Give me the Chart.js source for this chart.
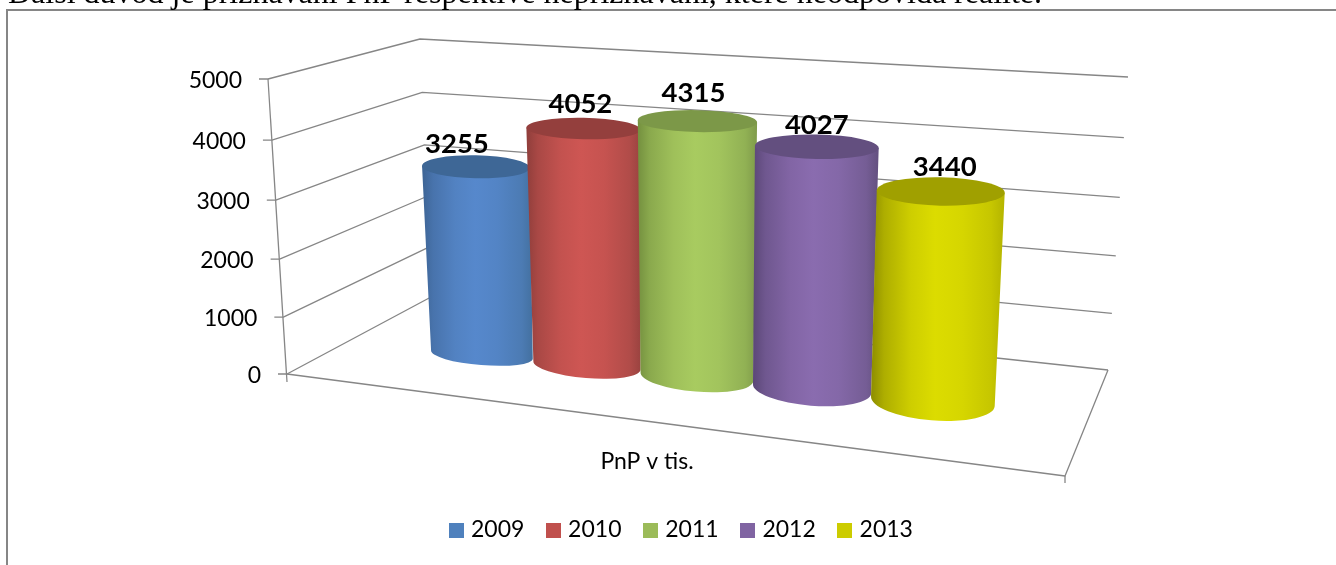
<!DOCTYPE html>
<html lang="cs">
<head>
<meta charset="utf-8">
<title>PnP v tis.</title>
<style>
  html, body { margin: 0; padding: 0; background: #fff; width: 1336px; height: 565px; overflow: hidden; }
  #wrap { position: relative; width: 1336px; height: 565px; overflow: hidden; }
  canvas { position: absolute; left: 0; top: 0; }
  #para { position: absolute; left: 8px; top: -26px; white-space: nowrap; font: 32px/36px "Liberation Serif", serif; color: #000; }
</style>
<script src="https://cdn.jsdelivr.net/npm/chart.js@4"></script>
</head>
<body>
<div id="wrap">
  <canvas id="c" width="1336" height="565"></canvas>
  <div id="para">Další důvod je přiznávání PnP respektive nepřiznávání, které neodpovídá realitě.</div>
</div>
<script>
// ---- data ----
const categories = ['PnP v tis.'];
const seriesNames = ['2009', '2010', '2011', '2012', '2013'];
const seriesValues = [3255, 4052, 4315, 4027, 3440];
const yTickValues = [0, 1000, 2000, 3000, 4000, 5000];

// ---- styles ----
const legendColors = ['#4F81BD', '#C0504D', '#9BBB59', '#8064A2', '#CCCC00'];
const sideEdgeL = ['#3D6494', '#8F3E3B', '#74903F', '#5B4777', '#8C8C00'];
const sideEdgeR = ['#43709F', '#9A4340', '#7F9B4A', '#63507F', '#B4B400'];
const sideMid = ['#5688CC', '#CE5653', '#A8CB60', '#8A6CAF', '#DCDC00'];
const capColor = ['#3E6796', '#943F3D', '#7C9848', '#634F7F', '#A0A000'];
const labelNudgeX = [-19, -3, -4, 0, 4];
const labelNudgeY = [-23, -24, -28, -22, -24];
const FONT = 'Lato, "Open Sans", sans-serif';
const LINE = '#868686';

// ---- 3-D frame of the chart (scaffolding of the projection) ----
const frame = {
  frontLow: [287, 374], frontHigh: [268, 79],
  backLow: [431, 297], backHigh: [420, 39],
  rightLow: [1108, 370], rightHigh: [1128, 77],
  floorFront: [1065, 476]
};
// plane through the cylinder axes
const plane = { bl: [369.2, 343], br: [1076, 416], tl: [354.8, 58.5], tr: [1094, 106] };
const uBend = -0.1356, wallBend = -0.043;

const lerp = (a, b, t) => [a[0] + (b[0] - a[0]) * t, a[1] + (b[1] - a[1]) * t];
const wallT = t => t * (1 + wallBend) / (1 + wallBend * t);
const onPlane = (u, t) => {
  const w = u * (1 + uBend) / (1 + uBend * u);
  return lerp(lerp(plane.bl, plane.br, w), lerp(plane.tl, plane.tr, w), t);
};
const scaleT = (s, v) => (s.bottom - s.getPixelForValue(v)) / (s.bottom - s.top);

function line(ctx, pts) {
  ctx.beginPath();
  pts.forEach((p, i) => i ? ctx.lineTo(p[0], p[1]) : ctx.moveTo(p[0], p[1]));
  ctx.stroke();
}
function mix(a, b, k) {
  const pa = parseInt(a.slice(1), 16), pb = parseInt(b.slice(1), 16);
  const ch = s => Math.round(((pa >> s) & 255) * (1 - k) + ((pb >> s) & 255) * k);
  return 'rgb(' + ch(16) + ',' + ch(8) + ',' + ch(0) + ')';
}

const scene = {
  id: 'scene',
  beforeDraw(chart) {
    const ctx = chart.ctx, y = chart.scales.y;
    ctx.save();
    ctx.fillStyle = '#fff';
    ctx.fillRect(0, 0, chart.width, chart.height);
    // outer frame of the embedded object
    ctx.strokeStyle = LINE; ctx.lineWidth = 2;
    line(ctx, [[7, chart.height + 2], [7, 10], [chart.width + 2, 10]]);
    ctx.restore();
    // slide the axis labels along the slanted axis
    const items = y.getLabelItems();
    if (!items._slanted) {
      items.forEach((it, i) => {
        const p = lerp(frame.frontLow, frame.frontHigh, wallT(scaleT(y, y.ticks[i].value)));
        it.options.translation[0] = p[0] - 26;
        it.options.translation[1] = p[1] + 1.5;
      });
      items._slanted = true;
    }
  },
  beforeDatasetsDraw(chart) {
    const ctx = chart.ctx, y = chart.scales.y;
    ctx.save();
    ctx.strokeStyle = LINE; ctx.lineWidth = 1.3; ctx.lineJoin = 'round';
    y.ticks.forEach(tk => {
      const t = wallT(scaleT(y, tk.value));
      const a = lerp(frame.frontLow, frame.frontHigh, t);
      const b = lerp(frame.backLow, frame.backHigh, t);
      const c = lerp(frame.rightLow, frame.rightHigh, t);
      line(ctx, [[a[0] - 9, a[1]], a, b, c]);
    });
    line(ctx, [frame.frontHigh, [frame.frontLow[0], frame.frontLow[1] + 8]]);
    line(ctx, [frame.frontLow, frame.floorFront, frame.rightLow]);
    line(ctx, [frame.floorFront, [frame.floorFront[0], frame.floorFront[1] + 7]]);
    ctx.restore();
  },
  beforeDatasetDraw() { return false; },
  afterDatasetsDraw(chart) {
    const ctx = chart.ctx, ca = chart.chartArea, yS = chart.scales.y;
    const tops = [];
    chart.data.datasets.forEach((ds, i) => {
      const bar = chart.getDatasetMeta(i).data[0].getProps(['x', 'y', 'base', 'width'], true);
      const u = (bar.x - ca.left) / (ca.right - ca.left);
      const t = (bar.base - bar.y) / (yS.bottom - yS.top);
      const h = bar.width / 2;
      const b = onPlane(u, 0), c = onPlane(u, t);
      const rxB = h * (0.79 + 0.284 * u), rxT = rxB + h * t * (0.08 - 0.04 * u);
      const ryB = h * (0.132 + 0.224 * u), ryT = h * (0.276 + 0.078 * u - 0.155 * t);
      const rotB = 0.08, rotT = 0.02;
      const g = ctx.createLinearGradient(Math.min(b[0] - rxB, c[0] - rxT), 0, Math.max(b[0] + rxB, c[0] + rxT), 0);
      const L = sideEdgeL[i], R = sideEdgeR[i], M = sideMid[i];
      g.addColorStop(0, L);
      g.addColorStop(0.1, mix(L, M, 0.42));
      g.addColorStop(0.3, mix(L, M, 0.82));
      g.addColorStop(0.48, M);
      g.addColorStop(0.68, mix(R, M, 0.85));
      g.addColorStop(0.9, mix(R, M, 0.45));
      g.addColorStop(1, R);
      ctx.save();
      ctx.fillStyle = g;
      ctx.beginPath();
      ctx.moveTo(c[0] - rxT * Math.cos(rotT), c[1] - rxT * Math.sin(rotT));
      ctx.lineTo(b[0] - rxB * Math.cos(rotB), b[1] - rxB * Math.sin(rotB));
      ctx.ellipse(b[0], b[1], rxB, ryB, rotB, Math.PI, 0, true);
      ctx.lineTo(c[0] + rxT * Math.cos(rotT), c[1] + rxT * Math.sin(rotT));
      ctx.closePath();
      ctx.fill();
      ctx.fillStyle = capColor[i];
      ctx.beginPath();
      ctx.ellipse(c[0], c[1], rxT, ryT, rotT, 0, Math.PI * 2);
      ctx.fill();
      ctx.restore();
      tops.push([c[0] + labelNudgeX[i], c[1] + labelNudgeY[i], ds.data[0]]);
    });
    ctx.save();
    ctx.font = 'bold 27.5px ' + FONT;
    ctx.fillStyle = '#000';
    ctx.textAlign = 'center';
    ctx.textBaseline = 'middle';
    tops.forEach(p => ctx.fillText(String(p[2]), p[0], p[1]));
    ctx.restore();
  }
};

function swatch(color) {
  const s = document.createElement('canvas');
  s.width = 15; s.height = 15;
  const x = s.getContext('2d');
  x.fillStyle = color; x.fillRect(0, 0, 15, 15);
  return s;
}

new Chart(document.getElementById('c'), {
  type: 'bar',
  data: {
    labels: categories,
    datasets: seriesNames.map((name, i) => ({
      label: name,
      data: [seriesValues[i]],
      backgroundColor: legendColors[i],
      categoryPercentage: 0.8,
      barPercentage: 1,
      yAxisID: 'y'
    }))
  },
  plugins: [scene],
  options: {
    responsive: false,
    animation: false,
    layout: { padding: { left: 30, right: 0, top: 80, bottom: 13.5 } },
    plugins: {
      tooltip: { enabled: false },
      legend: {
        position: 'bottom',
        labels: {
          color: '#000',
          font: { family: FONT, size: 23 },
          usePointStyle: true,
          pointStyleWidth: 6.4,
          padding: 25.9,
          generateLabels: chart => chart.data.datasets.map((ds, i) => ({
            text: ds.label,
            fontColor: '#000',
            pointStyle: swatch(ds.backgroundColor),
            datasetIndex: i,
            hidden: false
          }))
        }
      }
    },
    scales: {
      x: {
        grid: { display: false, drawTicks: false },
        border: { display: false },
        ticks: { color: '#000', padding: 72.7, font: { family: FONT, size: 23 } },
        afterFit: s => { s.height = 117.6; }
      },
      y: {
        min: 0, max: 5000,
        grid: { display: false, drawTicks: false },
        border: { display: false },
        ticks: { color: '#000', font: { family: FONT, size: 23 }, callback: v => String(v) },
        afterBuildTicks: s => { s.ticks = yTickValues.map(value => ({ value })); },
        afterFit: s => { s.width = 238; }
      },
      y2: {
        position: 'right', display: true, min: 0, max: 5000,
        grid: { display: false, drawTicks: false },
        border: { display: false },
        ticks: { display: false },
        afterFit: s => { s.width = 310; }
      }
    }
  }
});
</script>
</body>
</html>
